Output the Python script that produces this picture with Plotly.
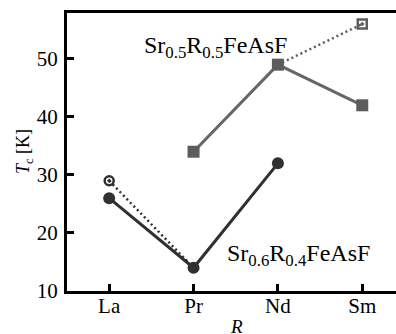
import plotly.graph_objects as go

categories = ["La", "Pr", "Nd", "Sm"]
cat_idx = {c: i for i, c in enumerate(categories)}

# Sr0.6R0.4FeAsF
s64_x = ["La", "Pr", "Nd"]
s64_y = [26, 14, 32]
s64_alt_x = ["La", "Pr"]
s64_alt_y = [29, 14]

# Sr0.5R0.5FeAsF
s55_x = ["Pr", "Nd", "Sm"]
s55_y = [34, 49, 42]
s55_alt_x = ["Nd", "Sm"]
s55_alt_y = [49, 56]

y_ticks = [10, 20, 30, 40, 50]

dark = "#303030"
gray = "#5c5c5c"
FONT = "Liberation Serif, Times New Roman, serif"

def xs(cats):
    return [cat_idx[c] for c in cats]

fig = go.Figure()
# dotted alternative lines
fig.add_trace(go.Scatter(x=xs(s64_alt_x), y=s64_alt_y, mode="lines",
                         line=dict(color=dark, width=2.5, dash="2px,3px"), showlegend=False))
fig.add_trace(go.Scatter(x=xs(s55_alt_x), y=s55_alt_y, mode="lines",
                         line=dict(color=gray, width=2.5, dash="2px,3px"), showlegend=False))
# open markers
fig.add_trace(go.Scatter(x=xs(s64_alt_x[:1]), y=s64_alt_y[:1], mode="markers",
                         marker=dict(symbol="circle-open-dot", size=9, color=dark,
                                     line=dict(width=2.5, color=dark)), showlegend=False))
fig.add_trace(go.Scatter(x=xs(s55_alt_x[1:]), y=s55_alt_y[1:], mode="markers",
                         marker=dict(symbol="square-open-dot", size=9, color=gray,
                                     line=dict(width=2.5, color=gray)), showlegend=False))
# solid series
fig.add_trace(go.Scatter(x=xs(s55_x), y=s55_y, mode="lines+markers",
                         line=dict(color="#666666", width=3),
                         marker=dict(symbol="square", size=12, color=gray), showlegend=False))
fig.add_trace(go.Scatter(x=xs(s64_x), y=s64_y, mode="lines+markers",
                         line=dict(color=dark, width=3),
                         marker=dict(symbol="circle", size=12, color=dark), showlegend=False))

def px_x(p):
    return (p - 67) / 329

def px_y(p):
    return (291 - p) / 278

tickfont = dict(family=FONT, size=21, color="black")

fig.update_layout(
    width=396, height=334,
    margin=dict(l=67, r=0, t=13, b=43),
    plot_bgcolor="white", paper_bgcolor="white",
    font=dict(family=FONT, size=21, color="black"),
    xaxis=dict(range=[-0.5, 3.4], tickvals=list(range(len(categories))), ticktext=categories,
               showline=True, linecolor="black", linewidth=3, mirror=True,
               ticks="inside", ticklen=7, tickwidth=2.5, tickcolor="black", tickfont=tickfont,
               showgrid=False, zeroline=False, ticklabelstandoff=-6),
    yaxis=dict(range=[10, 57.9], tickvals=y_ticks,
               showline=True, linecolor="black", linewidth=3, mirror=False,
               ticks="inside", ticklen=7, tickwidth=2.5, tickcolor="black", tickfont=tickfont,
               showgrid=False, zeroline=False, ticklabelstandoff=2),
    annotations=[
        dict(text="Sr<sub>0.5</sub>R<sub>0.5</sub>FeAsF", xref="paper", yref="paper",
             x=px_x(215), y=px_y(47), xanchor="center", yanchor="middle", showarrow=False,
             font=dict(family=FONT, size=24, color="black")),
        dict(text="Sr<sub>0.6</sub>R<sub>0.4</sub>FeAsF", xref="paper", yref="paper",
             x=px_x(298), y=px_y(255), xanchor="center", yanchor="middle", showarrow=False,
             font=dict(family=FONT, size=24, color="black")),
        dict(text="<i>T</i><sub>c</sub> [K]", xref="paper", yref="paper",
             x=px_x(24), y=px_y(152), xanchor="center", yanchor="middle",
             showarrow=False, textangle=-90,
             font=dict(family=FONT, size=18, color="black")),
        dict(text="<i>R</i>", xref="paper", yref="paper",
             x=px_x(236), y=px_y(326), xanchor="center", yanchor="middle", showarrow=False,
             font=dict(family=FONT, size=19, color="black")),
    ],
)

fig.write_html("out.html", config={"displayModeBar": False},
               post_script="document.body.style.margin='0';document.body.style.overflow='hidden';")
